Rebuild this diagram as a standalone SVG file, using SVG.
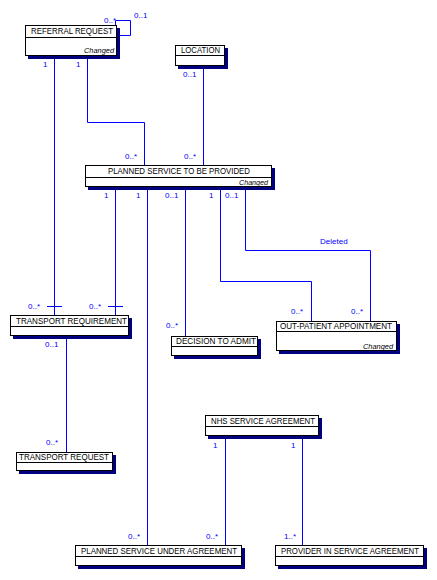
<svg xmlns="http://www.w3.org/2000/svg" width="437" height="580" viewBox="0 0 437 580">
<style>
.box{fill:#fff;stroke:#000;stroke-width:1}
.sh{fill:#000080}
.hd{stroke:#000;stroke-width:1}
.t{font-family:"Liberation Sans",Arial,sans-serif;font-size:8.5px;fill:#000}
.ch{font-family:"Liberation Sans",Arial,sans-serif;font-size:8px;font-style:italic;fill:#000}
.c{fill:none;stroke:#0000ff;stroke-width:1}
.l{font-family:"Liberation Sans",Arial,sans-serif;font-size:8px;fill:#0000ff}
</style>
<rect width="437" height="580" fill="#fff"/>
<g id="connectors">
<path class="c" d="M115.5,25 V20.5 H130.5 V35.5 H117"/>
<path class="c" d="M54.5,56 V315 M47,306.5 H62"/>
<path class="c" d="M87.5,56 V122.5 H144.5 V165"/>
<path class="c" d="M203.5,66 V165"/>
<path class="c" d="M115.5,187 V315 M108,306.5 H123"/>
<path class="c" d="M147.5,187 V545"/>
<path class="c" d="M185.5,187 V336"/>
<path class="c" d="M220.5,187 V281.5 H311.5 V321"/>
<path class="c" d="M245.5,187 V250.5 H370.5 V321"/>
<path class="c" d="M66.5,336 V452"/>
<path class="c" d="M225.5,436 V545"/>
<path class="c" d="M302.5,436 V545"/>
<text class="l" x="104" y="23">0..*</text>
<text class="l" x="134" y="18">0..1</text>
<text class="l" x="43" y="67">1</text>
<text class="l" x="76" y="67">1</text>
<text class="l" x="183" y="77">0..1</text>
<text class="l" x="125" y="159">0..*</text>
<text class="l" x="184" y="159">0..*</text>
<text class="l" x="104" y="198">1</text>
<text class="l" x="136" y="198">1</text>
<text class="l" x="165" y="198">0..1</text>
<text class="l" x="209" y="198">1</text>
<text class="l" x="225" y="198">0..1</text>
<text class="l" x="320" y="244">Deleted</text>
<text class="l" x="28" y="309">0..*</text>
<text class="l" x="89" y="309">0..*</text>
<text class="l" x="45" y="347">0..1</text>
<text class="l" x="291" y="314">0..*</text>
<text class="l" x="351" y="314">0..*</text>
<text class="l" x="166" y="328">0..*</text>
<text class="l" x="46" y="445">0..*</text>
<text class="l" x="213" y="448">1</text>
<text class="l" x="291" y="448">1</text>
<text class="l" x="128" y="539">0..*</text>
<text class="l" x="206" y="539">0..*</text>
<text class="l" x="284" y="539">1..*</text>
</g>
<g id="referral-request">
<rect class="sh" x="28" y="28" width="92" height="31"/>
<rect class="box" x="25.5" y="25.5" width="91" height="30"/>
<line class="hd" x1="25" y1="37.5" x2="117" y2="37.5"/>
<text class="t" x="31" y="34" textLength="82" lengthAdjust="spacingAndGlyphs">REFERRAL REQUEST</text>
<text class="ch" x="84" y="53" textLength="30" lengthAdjust="spacingAndGlyphs">Changed</text>
</g>
<g id="location">
<rect class="sh" x="178" y="48" width="50" height="21"/>
<rect class="box" x="175.5" y="45.5" width="49" height="20"/>
<line class="hd" x1="175" y1="55.5" x2="225" y2="55.5"/>
<text class="t" x="181" y="53" textLength="39" lengthAdjust="spacingAndGlyphs">LOCATION</text>
</g>
<g id="planned-service-to-be-provided">
<rect class="sh" x="88" y="168" width="187" height="22"/>
<rect class="box" x="85.5" y="165.5" width="186" height="21"/>
<line class="hd" x1="85" y1="177.5" x2="272" y2="177.5"/>
<text class="t" x="108" y="174" textLength="142" lengthAdjust="spacingAndGlyphs">PLANNED SERVICE TO BE PROVIDED</text>
<text class="ch" x="239" y="185" textLength="29" lengthAdjust="spacingAndGlyphs">Changed</text>
</g>
<g id="transport-requirement">
<rect class="sh" x="13" y="318" width="119" height="21"/>
<rect class="box" x="10.5" y="315.5" width="118" height="20"/>
<line class="hd" x1="10" y1="326.5" x2="129" y2="326.5"/>
<text class="t" x="16" y="324" textLength="111" lengthAdjust="spacingAndGlyphs">TRANSPORT REQUIREMENT</text>
</g>
<g id="decision-to-admit">
<rect class="sh" x="174" y="339" width="87" height="20"/>
<rect class="box" x="171.5" y="336.5" width="86" height="19"/>
<line class="hd" x1="171" y1="346.5" x2="258" y2="346.5"/>
<text class="t" x="176" y="344" textLength="80" lengthAdjust="spacingAndGlyphs">DECISION TO ADMIT</text>
</g>
<g id="out-patient-appointment">
<rect class="sh" x="279" y="324" width="121" height="30"/>
<rect class="box" x="276.5" y="321.5" width="120" height="29"/>
<line class="hd" x1="276" y1="331.5" x2="397" y2="331.5"/>
<text class="t" x="280" y="329" textLength="112" lengthAdjust="spacingAndGlyphs">OUT-PATIENT APPOINTMENT</text>
<text class="ch" x="363" y="349" textLength="30" lengthAdjust="spacingAndGlyphs">Changed</text>
</g>
<g id="transport-request">
<rect class="sh" x="19" y="455" width="97" height="19"/>
<rect class="box" x="16.5" y="452.5" width="96" height="18"/>
<line class="hd" x1="16" y1="462.5" x2="113" y2="462.5"/>
<text class="t" x="19" y="460" textLength="90" lengthAdjust="spacingAndGlyphs">TRANSPORT REQUEST</text>
</g>
<g id="nhs-service-agreement">
<rect class="sh" x="208" y="418" width="114" height="21"/>
<rect class="box" x="205.5" y="415.5" width="113" height="20"/>
<line class="hd" x1="205" y1="426.5" x2="319" y2="426.5"/>
<text class="t" x="211" y="424" textLength="104" lengthAdjust="spacingAndGlyphs">NHS SERVICE AGREEMENT</text>
</g>
<g id="planned-service-under-agreement">
<rect class="sh" x="78" y="548" width="167" height="21"/>
<rect class="box" x="75.5" y="545.5" width="166" height="20"/>
<line class="hd" x1="75" y1="556.5" x2="242" y2="556.5"/>
<text class="t" x="81" y="554" textLength="156" lengthAdjust="spacingAndGlyphs">PLANNED SERVICE UNDER AGREEMENT</text>
</g>
<g id="provider-in-service-agreement">
<rect class="sh" x="278" y="548" width="149" height="21"/>
<rect class="box" x="275.5" y="545.5" width="148" height="20"/>
<line class="hd" x1="275" y1="556.5" x2="424" y2="556.5"/>
<text class="t" x="281" y="554" textLength="138" lengthAdjust="spacingAndGlyphs">PROVIDER IN SERVICE AGREEMENT</text>
</g>
</svg>
